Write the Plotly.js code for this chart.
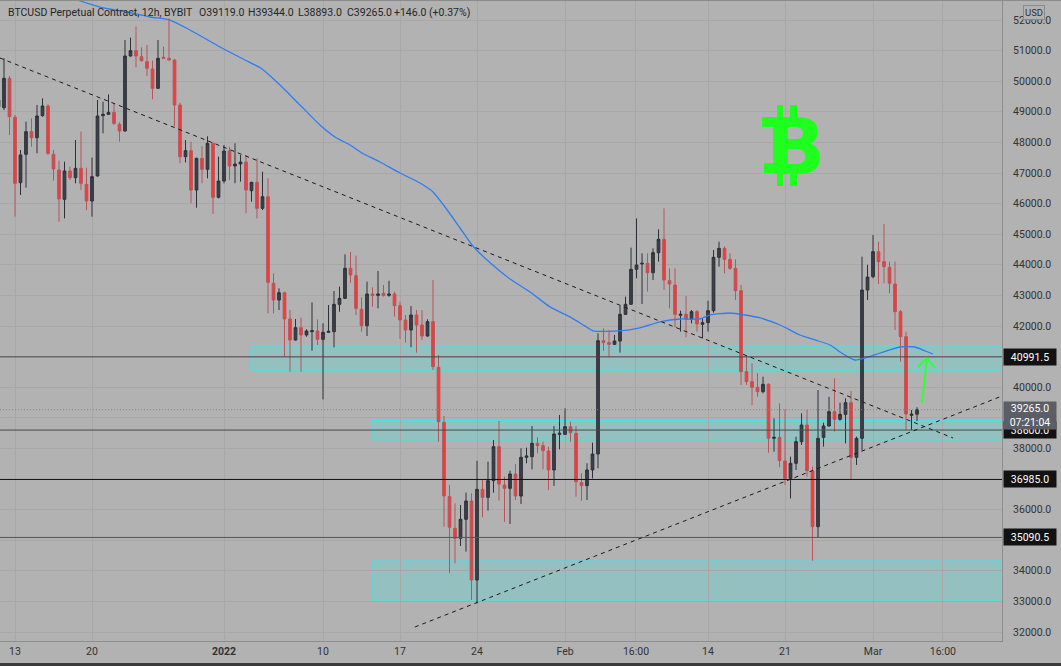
<!DOCTYPE html>
<html>
<head>
<meta charset="utf-8">
<script src="https://cdn.plot.ly/plotly-3.0.1.min.js"></script>
<style>html,body{margin:0;padding:0;background:#b2b2b2;}#chart{width:1061px;height:666px;}</style>
</head>
<body>
<div id="chart"></div>
<script>
// 12h candles, index 0 = 2021-12-13 00:00 ; first candle index = -3
const firstIndex = -3;
const open  = [49168,49136,50094,48820,46685,47611,48352,48155,48874,49190,47611,47099,46140,47066,46848,47153,46630,46086,46903,48874,48918,48983,48591,48373,50824,50998,50802,50639,50399,49767,50781,50748,50693,49223,47534,47730,46444,47479,47120,47969,46205,46738,47719,47229,47294,47359,46422,46695,45845,46226,43394,42850,43089,42229,41542,41945,41706,41815,41837,41564,41793,41815,42708,42904,43885,43645,42545,42011,43046,43002,43068,43002,43046,42665,42196,41870,42360,42033,41673,42142,40650,38852,36423,35388,35062,35682,36281,33700,36663,36401,36946,38057,36804,36695,37164,36445,37709,37730,38166,38090,37916,37295,38460,38460,38711,38493,36881,36783,37295,37817,41521,41456,41401,41510,42382,42708,43852,44027,44048,43743,44397,44833,43482,43340,42349,42382,42218,42469,42054,42109,42501,44244,44538,44178,43884,43154,40508,40181,39996,39854,40094,38329,38361,37588,37022,37512,38220,38765,37261,35442,38361,38732,39200,38950,39113,39494,37708,38329,43176,43612,44429,44103,43917,43373,42469,41652,39080,39119];
const high  = [49500,50748,50170,48896,47752,48678,48787,49223,49441,49245,47752,47404,47371,47208,48079,48352,47175,47502,49386,49332,49571,49277,48656,51347,51423,51783,51107,51184,50672,51347,51129,52050,50726,49300,48078,48024,47500,47882,48200,48024,47534,47915,47860,47969,47588,47588,46717,47479,47043,46826,43721,43231,43122,42523,42229,42272,41891,42773,42218,42087,42686,43144,43286,44342,44418,44300,42937,43449,43264,43798,43340,43482,43122,42795,42360,42654,42523,42523,42218,43503,41053,39059,36804,36205,36150,36554,36532,37599,36968,37567,38275,38896,37077,37273,37491,38003,38024,38732,38362,38220,38057,38732,39092,39310,38874,38732,37186,37513,38188,41761,41924,41870,41706,42654,42959,44560,45519,44375,44375,44538,45159,45846,43885,43885,42502,42981,42523,42523,42250,42828,44483,44756,44600,44375,44178,43340,41052,40780,40453,40344,40126,38983,39473,39277,37730,38383,39146,39255,37403,39908,38841,39690,40290,39494,39636,39876,38383,44266,44000,44974,44756,45333,44103,44103,42523,41815,39255,39344];
const low   = [49100,49060,48243,45574,46282,46521,47861,47643,48842,47589,46750,45410,45519,46772,46663,46445,45792,45574,46881,48297,48896,48569,48025,48352,50802,50454,50639,50170,49408,49746,50726,50672,48515,47316,47348,46009,45867,46662,46826,45660,46172,46662,46771,46662,46717,45682,46063,45518,45791,42414,42414,42523,40998,40507,41521,40507,41651,41194,41379,39603,41793,41303,42468,42904,43416,42360,41815,41673,42632,42578,42959,42959,42305,41575,41456,41303,41129,41543,41652,40562,38220,35443,33918,34244,34811,34626,33046,32937,35748,35965,36554,36292,35600,35530,36314,36184,37513,37316,37839,37316,36641,36772,37970,38438,38220,36423,36292,36314,37022,37349,41194,40998,41379,41129,42360,42687,43558,42719,43122,43504,44103,43177,42578,41957,41815,41630,42087,41815,41597,41815,42436,43939,43721,43830,42849,40072,40072,39418,39690,39800,37860,37893,37381,36804,36368,37294,38111,37076,34331,35094,38057,38710,38547,38906,38166,36989,37458,37926,42849,43558,43373,43395,43068,41870,40835,38602,38602,38893];
const close = [49386,50094,48842,46663,47589,48352,48155,48863,49190,47643,47131,46151,47066,46848,47153,46663,46086,46881,48863,48918,48983,48624,48373,50824,50998,50824,50672,50421,49767,50748,50748,50693,49223,47534,47730,46444,47479,47120,47969,46205,46738,47719,47229,47294,47359,46444,46695,45845,46226,43427,42850,43089,42229,41542,41945,41706,41837,41847,41564,41793,41825,42708,42904,43884,43667,42578,42011,43046,43002,43046,43002,43046,42665,42196,41870,42360,42033,41673,42142,40671,38874,36445,35421,35062,35682,36281,33700,36663,36401,36946,38057,36837,36695,37164,36445,37709,37752,38166,38090,37927,37295,38471,38493,38711,38515,36913,36783,37295,37817,41521,41456,41401,41510,42382,42708,43852,43994,44048,43743,44397,44833,43504,43373,42382,42382,42218,42469,42066,42109,42501,44244,44538,44178,43884,43154,40508,40181,39996,39854,40094,38329,38361,37599,37022,37512,38220,38765,37272,35442,38329,38732,39200,38950,39113,39494,37708,38329,43176,43600,44429,44103,43939,43395,42469,41652,39125,39119,39265];

// moving average line (candle index, price)
const maIndex = [11.27,15.45,20.36,24.55,28.18,31.82,37.27,41.82,44.91,48.18,51.82,55.45,58.18,60.91,63.09,66.36,70,73.64,76,78.18,80.91,83.09,85.82,90,93.64,97.27,100.9,103.6,105.1,110,113.6,117.3,120.9,124.5,126.4,130,132.7,135.5,139.1,142.7,145.5,148.2,150,152.7,154.5,157.3,160.9,163.6,165.5,166.9];
const maValue = [52654,52425,52262,52098,52000,51673,51118,50693,50399,49876,49222,48569,48177,47915,47654,47360,47000,46673,46379,45889,45203,44647,44157,43536,43111,42625,42298,42004,41840,41840,41939,42135,42229,42229,42360,42425,42360,42262,42033,41706,41543,41379,41150,40889,40954,41118,41314,41314,41183,41085];

// axis ticks
const xTickIndex = [0,14,38,56,70,84,100,112.9,126,140,156,168.7];
const xTickText  = ['13','20','<b>2022</b>','10','17','24','Feb','16:00','14','21','Mar','16:00'];
const yTicks = [32000,33000,34000,35000,36000,37000,38000,39000,40000,41000,42000,43000,44000,45000,46000,47000,48000,49000,50000,51000,52000];
const yTicksHidden = [35000,37000,39000,41000]; // covered by the price labels in the picture

// drawings
const levelPrices = [40991.5, 38600.0, 36985.0, 35090.5];
const levelColors = ['#454545','#4a4a4a','#111111','#555555'];
const zoneFromIndex = [42.9, 64.9, 64.9];
const zoneLow  = [40535, 38275, 33013];
const zoneHigh = [41346, 38910, 34320];
const trendIndex = [[-2.727, 170.55],[72.7, 179.45]];
const trendPrice = [[50758, 38340],[32163, 39712]];
const lastPrice = 39265.0;
const arrowIndex = [164.9, 165.8, 164.2, 167.3];
const arrowPrice = [39484, 40954, 40660, 40627];

const header = ['BTCUSD Perpetual Contract, 12h, BYBIT','O39119.0','H39344.0','L38893.0','C39265.0','+146.0 (+0.37%)'];
const headerPx = [6,197,246,296,345,392];

const T0 = Date.UTC(2021,11,13,0,0,0);
function toDate(i){
  const d = new Date(T0 + i*12*3600*1000);
  return d.toISOString().slice(0,19).replace('T',' ');
}
const xs = open.map((_,k)=>toDate(firstIndex+k));

const candles = {
  type:'candlestick', x:xs, open:open, high:high, low:low, close:close,
  increasing:{line:{color:'#2e3038',width:1}, fillcolor:'#3c3f47'},
  decreasing:{line:{color:'#b8555a',width:1}, fillcolor:'#f23b3b'},
  whiskerwidth:0, hoverinfo:'skip', showlegend:false
};
const ma = {
  type:'scatter', mode:'lines', x:maIndex.map(toDate), y:maValue,
  line:{color:'#2f7df2', width:1.3, shape:'spline', smoothing:0.6}, hoverinfo:'skip', showlegend:false
};

const W = 1061, PW = 1002, PH = 641;
const px = v => v/PW;          // pixel x -> paper
const py = v => 1 - v/PH;      // pixel y -> paper
const shapes = [];
zoneLow.forEach((lo,k)=>{
  shapes.push({type:'rect', xref:'x', yref:'y', x0:toDate(zoneFromIndex[k]), x1:toDate(179.45), y0:lo, y1:zoneHigh[k],
    fillcolor:'rgba(30,255,250,0.20)', line:{color:'#3fe6e6', width:1}, layer:'below'});
});
levelPrices.forEach((p,k)=>{
  shapes.push({type:'line', xref:'paper', yref:'y', x0:0, x1:1, y0:p, y1:p, line:{color:levelColors[k], width:1}});
});
shapes.push({type:'line', xref:'paper', yref:'y', x0:0, x1:1, y0:lastPrice, y1:lastPrice, line:{color:'#858585', width:1, dash:'1px,2px'}});
trendIndex.forEach((ti,k)=>{
  shapes.push({type:'line', xref:'x', yref:'y', x0:toDate(ti[0]), x1:toDate(ti[1]), y0:trendPrice[k][0], y1:trendPrice[k][1],
    line:{color:'#1a1a1a', width:1, dash:'4px,4px'}});
});
// green arrow
[[0,1],[2,1],[3,1]].forEach(s=>{
  shapes.push({type:'line', xref:'x', yref:'y', x0:toDate(arrowIndex[s[0]]), y0:arrowPrice[s[0]], x1:toDate(arrowIndex[s[1]]), y1:arrowPrice[s[1]], line:{color:'#33ff33', width:2}});
});
// bitcoin logo strokes (bars and left slabs)
const G = '#1eff1e';
[[777,783,105,118],[790,797,105,118],[777,783,172,186],[790,797,172,186],[762,774,117,127],[764,774,163,173]].forEach(r=>{
  shapes.push({type:'rect', xref:'paper', yref:'paper', x0:px(r[0]), x1:px(r[1]), y0:py(r[3]), y1:py(r[2]), fillcolor:G, line:{width:0}});
});
// frame strips (top and bottom of the picture)
shapes.push({type:'rect', xref:'paper', yref:'paper', x0:0, x1:W/PW, y0:py(666), y1:py(663), fillcolor:'#3a3a3a', line:{width:0}});
shapes.push({type:'rect', xref:'paper', yref:'paper', x0:0, x1:W/PW, y0:py(1), y1:py(0), fillcolor:'#8c8c8c', line:{width:0}});

const annotations = [];
header.forEach((t,k)=>{
  annotations.push({xref:'paper', yref:'paper', x:px(headerPx[k]), y:py(13), xanchor:'left', yanchor:'middle',
    text:t, showarrow:false, font:{family:'Roboto, Arial, sans-serif', size:10.5, color:'#262626'}});
});
// price labels on axis
[38600.0, 40991.5, 36985.0, 35090.5].forEach(p=>{
  annotations.push({xref:'paper', yref:'y', x:1, xshift:1, xanchor:'left', yanchor:'middle', y:p,
    text:p.toFixed(1), showarrow:false, bgcolor:'#121212', width:50, height:14, align:'center',
    font:{family:'Roboto, Arial, sans-serif', size:10.5, color:'#ffffff'}});
});
annotations.push({xref:'paper', yref:'y', x:1, xshift:1, xanchor:'left', yanchor:'middle', y:39080,
  text:lastPrice.toFixed(1)+'<br>07:21:04', showarrow:false, bgcolor:'#5b5e66', width:50, height:25, align:'center',
  font:{family:'Roboto, Arial, sans-serif', size:10.5, color:'#ffffff'}});
annotations.push({xref:'paper', yref:'paper', x:px(1034), y:py(12), xanchor:'center', yanchor:'middle',
  text:'USD', showarrow:false, bgcolor:'#b2b2b2', bordercolor:'#8a8a8a', borderwidth:1, borderpad:1,
  font:{family:'Roboto, Arial, sans-serif', size:9.5, color:'#333'}});
annotations.push({xref:'paper', yref:'paper', x:px(795.5), y:py(147), xanchor:'center', yanchor:'middle',
  text:'<b>B</b>', showarrow:false, font:{family:'DejaVu Sans, sans-serif', size:78, color:G}});

const layout = {
  width:1061, height:666,
  margin:{l:0, r:59, t:0, b:25, pad:0},
  paper_bgcolor:'#b2b2b2', plot_bgcolor:'#b2b2b2',
  showlegend:false, dragmode:false,
  xaxis:{type:'date', range:[toDate(-2.727), toDate(179.45)], tickmode:'array',
    tickvals:xTickIndex.map(toDate), ticktext:xTickText, showgrid:true, gridcolor:'#a8a8a8', gridwidth:1,
    showline:true, linecolor:'#8e8e8e', ticks:'', zeroline:false, rangeslider:{visible:false},
    tickfont:{family:'Roboto, Arial, sans-serif', size:10.5, color:'#333'}, fixedrange:true},
  yaxis:{side:'right', range:[31706, 52654], tickmode:'array', tickvals:yTicks,
    ticktext:yTicks.map(v=>yTicksHidden.includes(v)?'':v.toFixed(1)),
    showgrid:true, gridcolor:'#a8a8a8', gridwidth:1, showline:true, linecolor:'#8e8e8e', ticks:'',
    zeroline:false, ticklabelstandoff:8,
    tickfont:{family:'Roboto, Arial, sans-serif', size:10.5, color:'#333'}, fixedrange:true},
  shapes:shapes, annotations:annotations
};
Plotly.newPlot('chart', [candles, ma], layout, {displayModeBar:false, staticPlot:true});
</script>
</body>
</html>
